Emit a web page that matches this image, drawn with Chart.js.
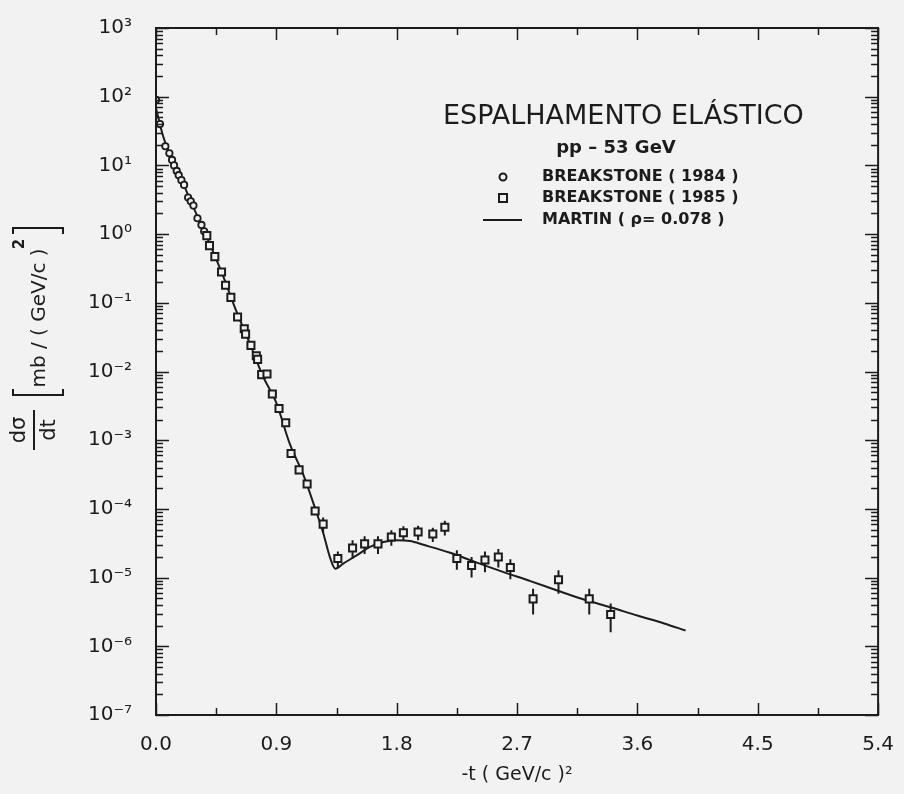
<!DOCTYPE html>
<html>
<head>
<meta charset="utf-8">
<script src="https://cdn.jsdelivr.net/npm/chart.js@4.4.1/dist/chart.umd.min.js"></script>
<style>
  html, body { margin: 0; padding: 0; background: #f2f2f2; }
</style>
</head>
<body>
<canvas id="graficoSecao" width="904" height="794"></canvas>
<script>
// Breakstone (1984) - pequenos |t|
const t1984 = [0.00, 0.03, 0.07, 0.10, 0.12, 0.135, 0.155, 0.17, 0.19, 0.21, 0.24, 0.26, 0.28, 0.31, 0.34, 0.36];
const v1984 = [90, 40, 19, 15, 12, 10, 8.3, 7.2, 6.1, 5.2, 3.4, 3.0, 2.6, 1.7, 1.36, 1.1];

// Breakstone (1985)
const t1985 = [0.38, 0.40, 0.44, 0.49, 0.52, 0.56, 0.61, 0.66, 0.67, 0.71, 0.75, 0.76, 0.79, 0.83, 0.87,
               0.92, 0.97, 1.01, 1.07, 1.13, 1.19, 1.25, 1.36, 1.47, 1.56, 1.66, 1.76, 1.85, 1.96, 2.07,
               2.16, 2.25, 2.36, 2.46, 2.56, 2.65, 2.82, 3.01, 3.24, 3.40];
const v1985 = [0.95, 0.68, 0.47, 0.28, 0.18, 0.12, 0.062, 0.042, 0.035, 0.024, 0.017, 0.015, 0.009, 0.0092, 0.0047,
               0.0029, 0.0018, 6.4e-4, 3.7e-4, 2.3e-4, 9.3e-5, 6.0e-5, 1.9e-5, 2.7e-5, 3.1e-5, 3.1e-5, 3.9e-5, 4.5e-5, 4.6e-5, 4.3e-5,
               5.4e-5, 1.9e-5, 1.5e-5, 1.8e-5, 2.0e-5, 1.4e-5, 4.9e-6, 9.3e-6, 4.9e-6, 2.9e-6];
const e1985 = [0, 0, 0, 0, 0, 0, 0, 0, 0, 0, 0, 0, 0, 0, 0,
               0, 0, 0, 0, 0, 0, 1.5e-5, 5e-6, 8e-6, 9e-6, 9e-6, 1.0e-5, 1.1e-5, 1.1e-5, 1.0e-5,
               1.3e-5, 6e-6, 5e-6, 6e-6, 6e-6, 4.5e-6, 2.0e-6, 3.5e-6, 2.0e-6, 1.3e-6];

// Martin (rho = 0.078)
const tMartin = [0, 0.05, 0.1, 0.2, 0.3, 0.4, 0.5, 0.6, 0.7, 0.8, 0.9, 1.0, 1.1, 1.2, 1.25, 1.3, 1.34, 1.4, 1.5,
                 1.6, 1.7, 1.8, 1.9, 2.0, 2.2, 2.4, 2.6, 2.8, 3.0, 3.2, 3.4, 3.6, 3.8, 3.96];
const vMartin = [68, 28, 15, 5.6, 2.0, 0.74, 0.25, 0.076, 0.026, 0.0085, 0.0035, 8.9e-4, 3.2e-4, 8.9e-5, 4.5e-5, 2.0e-5, 1.35e-5, 1.6e-5, 2.1e-5,
                 2.8e-5, 3.3e-5, 3.5e-5, 3.4e-5, 3.0e-5, 2.3e-5, 1.65e-5, 1.2e-5, 8.9e-6, 6.5e-6, 4.8e-6, 3.7e-6, 2.8e-6, 2.15e-6, 1.7e-6];

// eixos
const xMajor = [0, 0.9, 1.8, 2.7, 3.6, 4.5, 5.4];
const xMinor = [0.45, 1.35, 2.25, 3.15, 4.05, 4.95];
const xTickLabels = ['0.0', '0.9', '1.8', '2.7', '3.6', '4.5', '5.4'];
const yExp = [-7, -6, -5, -4, -3, -2, -1, 0, 1, 2, 3];
const yTickLabels = ['10⁻⁷', '10⁻⁶', '10⁻⁵', '10⁻⁴', '10⁻³', '10⁻²', '10⁻¹', '10⁰', '10¹', '10²', '10³'];

// textos
const tituloGrafico = 'ESPALHAMENTO ELÁSTICO';
const subtitulo = 'pp – 53 GeV';
const legendaItens = ['BREAKSTONE ( 1984 )', 'BREAKSTONE ( 1985 )', 'MARTIN ( ρ= 0.078 )'];
const tituloX = '-t ( GeV/c )²';

const tinta = '#1c1c1c';
const papel = '#f2f2f2';
const fonte = '"DejaVu Sans", sans-serif';

const fundo = {
  id: 'fundo',
  beforeDraw(chart) {
    const { ctx, width, height } = chart;
    ctx.save();
    ctx.fillStyle = papel;
    ctx.fillRect(0, 0, width, height);
    ctx.restore();
  }
};

// barras de erro (antes dos marcadores)
const barrasErro = {
  id: 'barrasErro',
  beforeDatasetsDraw(chart) {
    const { ctx, scales: { x, y } } = chart;
    ctx.save();
    ctx.strokeStyle = tinta;
    ctx.lineWidth = 2;
    ctx.beginPath();
    t1985.forEach((t, i) => {
      if (!e1985[i]) return;
      const px = x.getPixelForValue(t);
      ctx.moveTo(px, y.getPixelForValue(v1985[i] + e1985[i]));
      ctx.lineTo(px, y.getPixelForValue(v1985[i] - e1985[i]));
    });
    ctx.stroke();
    ctx.restore();
  }
};

// moldura com tracinhos para dentro
const moldura = {
  id: 'moldura',
  afterDatasetsDraw(chart) {
    const { ctx, chartArea: a, scales: { x, y } } = chart;
    ctx.save();
    ctx.strokeStyle = tinta;
    ctx.lineWidth = 2;
    ctx.strokeRect(a.left, a.top, a.right - a.left, a.bottom - a.top);
    ctx.lineWidth = 1.5;
    ctx.beginPath();
    const marcaX = (vals, len) => vals.forEach(v => {
      const px = Math.round(x.getPixelForValue(v)) + 0.5;
      ctx.moveTo(px, a.bottom); ctx.lineTo(px, a.bottom - len);
      ctx.moveTo(px, a.top); ctx.lineTo(px, a.top + len);
    });
    const marcaY = (v, len) => {
      const py = Math.round(y.getPixelForValue(v)) + 0.5;
      ctx.moveTo(a.left, py); ctx.lineTo(a.left + len, py);
      ctx.moveTo(a.right, py); ctx.lineTo(a.right - len, py);
    };
    marcaX(xMajor, 12);
    marcaX(xMinor, 7);
    yExp.forEach(k => {
      marcaY(Math.pow(10, k), 13);
      if (k < 3) for (let m = 2; m <= 9; m++) marcaY(m * Math.pow(10, k), 7);
    });
    ctx.stroke();
    ctx.restore();
  }
};

// titulo do eixo y (fracao + unidade) e legenda interna
const textos = {
  id: 'textos',
  afterDraw(chart) {
    const { ctx } = chart;
    ctx.save();
    ctx.fillStyle = tinta;
    ctx.strokeStyle = tinta;

    const girado = (txt, px, py, f) => {
      ctx.save();
      ctx.translate(px, py);
      ctx.rotate(-Math.PI / 2);
      ctx.font = f;
      ctx.textAlign = 'center';
      ctx.textBaseline = 'middle';
      ctx.fillText(txt, 0, 0);
      ctx.restore();
    };
    girado('dσ', 20, 430, '21px ' + fonte);
    girado('dt', 50, 430, '21px ' + fonte);
    ctx.lineWidth = 2;
    ctx.beginPath();
    ctx.moveTo(34, 410); ctx.lineTo(34, 450);
    // colchetes
    ctx.moveTo(13, 234); ctx.lineTo(13, 228); ctx.lineTo(63, 228); ctx.lineTo(63, 234);
    ctx.moveTo(13, 389); ctx.lineTo(13, 395); ctx.lineTo(63, 395); ctx.lineTo(63, 389);
    ctx.stroke();
    girado('mb / ( GeV/c )', 40, 318, '20px ' + fonte);
    girado('2', 20, 244, 'bold 15px ' + fonte);

    // legenda dentro do grafico
    ctx.textBaseline = 'middle';
    ctx.textAlign = 'left';
    ctx.font = '27px ' + fonte;
    ctx.fillText(tituloGrafico, 443, 117);
    ctx.textAlign = 'center';
    ctx.font = 'bold 18px ' + fonte;
    ctx.fillText(subtitulo, 616, 148);
    ctx.textAlign = 'left';
    ctx.font = 'bold 16px ' + fonte;
    const ys = [177, 198, 220];
    legendaItens.forEach((txt, i) => ctx.fillText(txt, 542, ys[i]));
    ctx.lineWidth = 2;
    ctx.beginPath();
    ctx.arc(503, ys[0], 3.5, 0, Math.PI * 2);
    ctx.stroke();
    ctx.strokeRect(499, ys[1] - 4, 8, 8);
    ctx.beginPath();
    ctx.moveTo(483, ys[2]); ctx.lineTo(522, ys[2]);
    ctx.stroke();
    ctx.restore();
  }
};

const ctx = document.getElementById('graficoSecao').getContext('2d');
new Chart(ctx, {
  type: 'scatter',
  data: {
    datasets: [
      {
        label: legendaItens[2],
        data: tMartin.map((t, i) => ({ x: t, y: vMartin[i] })),
        showLine: true,
        borderColor: tinta,
        borderWidth: 2,
        pointRadius: 0,
        cubicInterpolationMode: 'monotone',
        order: 3
      },
      {
        label: legendaItens[1],
        data: t1985.map((t, i) => ({ x: t, y: v1985[i] })),
        pointStyle: 'rect',
        pointRadius: 5,
        pointBorderWidth: 2,
        pointBorderColor: tinta,
        pointBackgroundColor: papel,
        order: 1
      },
      {
        label: legendaItens[0],
        data: t1984.map((t, i) => ({ x: t, y: v1984[i] })),
        pointStyle: 'circle',
        pointRadius: 3.2,
        pointBorderWidth: 1.8,
        pointBorderColor: tinta,
        pointBackgroundColor: papel,
        order: 2
      }
    ]
  },
  options: {
    responsive: false,
    animation: false,
    layout: { padding: { top: 24, right: 19, left: 0, bottom: 0 } },
    plugins: {
      legend: { display: false },
      tooltip: { enabled: false }
    },
    scales: {
      x: {
        type: 'linear',
        min: 0,
        max: 5.4,
        afterBuildTicks: s => { s.ticks = xMajor.map(v => ({ value: v })); },
        afterFit: s => { s.height = 79; },
        grid: { display: false },
        border: { display: false },
        ticks: {
          autoSkip: false,
          maxRotation: 0,
          padding: 10,
          color: tinta,
          font: { size: 20, family: fonte },
          callback: (v, i) => xTickLabels[i]
        },
        title: {
          display: true,
          text: tituloX,
          color: tinta,
          font: { size: 19, family: fonte },
          padding: { top: 0, bottom: 8 }
        }
      },
      y: {
        type: 'logarithmic',
        min: 1e-7,
        max: 1e3,
        afterBuildTicks: s => { s.ticks = yExp.map(k => ({ value: Math.pow(10, k) })); },
        afterFit: s => { s.width = 156; },
        grid: { display: false },
        border: { display: false },
        ticks: {
          autoSkip: false,
          padding: 16,
          color: tinta,
          font: { size: 20, family: fonte },
          callback: (v, i) => yTickLabels[i]
        }
      }
    }
  },
  plugins: [fundo, barrasErro, moldura, textos]
});
</script>
</body>
</html>
